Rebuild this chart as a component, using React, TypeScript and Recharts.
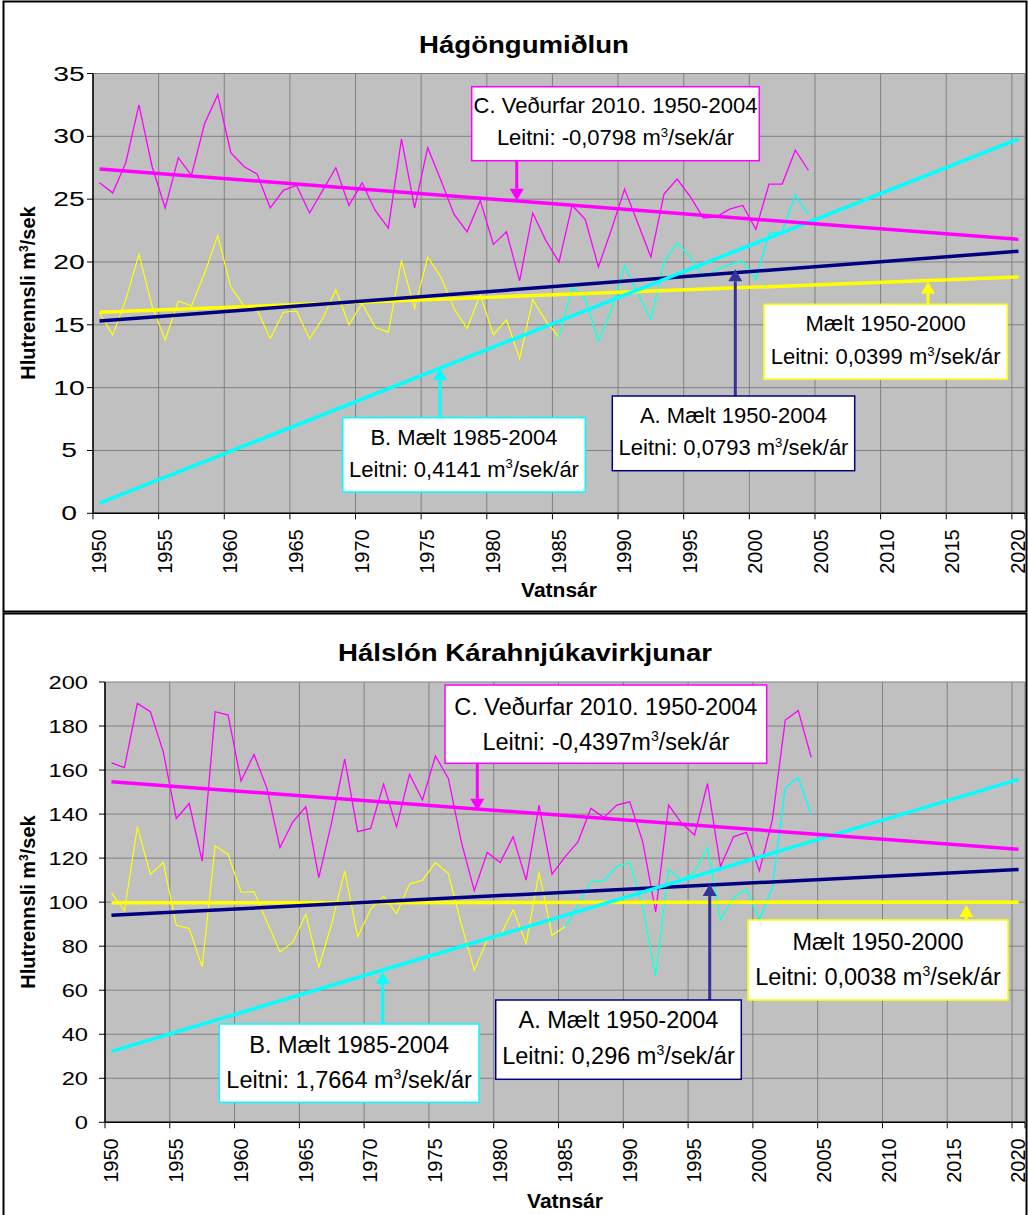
import React from 'react';
import { ComposedChart, Line, XAxis, YAxis, CartesianGrid } from 'recharts';

const FONT = "'Liberation Sans', Arial, Helvetica, sans-serif";

// ---------- categories ----------
const years = [
  1950, 1951, 1952, 1953, 1954, 1955, 1956, 1957, 1958, 1959,
  1960, 1961, 1962, 1963, 1964, 1965, 1966, 1967, 1968, 1969,
  1970, 1971, 1972, 1973, 1974, 1975, 1976, 1977, 1978, 1979,
  1980, 1981, 1982, 1983, 1984, 1985, 1986, 1987, 1988, 1989,
  1990, 1991, 1992, 1993, 1994, 1995, 1996, 1997, 1998, 1999,
  2000, 2001, 2002, 2003, 2004,
];
const yearsB = [
  1985, 1986, 1987, 1988, 1989, 1990, 1991, 1992, 1993, 1994,
  1995, 1996, 1997, 1998, 1999, 2000, 2001, 2002, 2003, 2004,
];
const trendYears = [1950, 2020];
const xTickBounds = [1949.5, 1954.5, 1959.5, 1964.5, 1969.5, 1974.5, 1979.5, 1984.5, 1989.5, 1994.5, 1999.5, 2004.5, 2009.5, 2014.5, 2019.5, 2020.5];
const xTickLabels = ['1950', '1955', '1960', '1965', '1970', '1975', '1980', '1985', '1990', '1995', '2000', '2005', '2010', '2015', '2020', ''];

// ---------- Hágöngumiðlun ----------
const hagVedurfar = [
  26.3, 25.5, 27.9, 32.5, 27.6, 24.3, 28.3, 26.9, 31.0, 33.3,
  28.7, 27.6, 27.0, 24.3, 25.7, 26.1, 23.9, 25.7, 27.5, 24.5,
  26.3, 24.1, 22.7, 29.8, 24.3, 29.1, 26.5, 23.8, 22.4, 24.9,
  21.4, 22.4, 18.5, 23.9, 21.7, 20.0, 24.5, 23.4, 19.6, 22.6,
  25.8, 23.1, 20.4, 25.4, 26.6, 25.2, 23.5, 23.6, 24.2, 24.5,
  22.6, 26.2, 26.2, 28.9, 27.3,
];
const hagMaelt = [
  15.9, 14.2, 17.0, 20.6, 16.5, 13.8, 16.9, 16.5, 19.1, 22.1,
  18.0, 16.5, 16.2, 13.9, 16.0, 16.1, 13.9, 15.5, 17.8, 15.0,
  16.7, 14.8, 14.4, 20.1, 16.3, 20.4, 18.8, 16.3, 14.7, 17.4,
  14.2, 15.4, 12.3, 17.0, 15.3, 14.0, 18.0, 17.1, 13.7, 16.2,
  19.7, 17.5, 15.4, 20.0, 21.5, 20.4, 18.8, 19.4, 19.8, 20.1,
  18.6,
];
const hagMaelt8504 = [
  14.0, 18.0, 17.1, 13.7, 16.2, 19.7, 17.5, 15.4, 20.0, 21.5,
  20.4, 18.8, 19.4, 19.8, 20.1, 18.6, 22.3, 22.4, 25.3, 23.8,
];
const hagTrendC = [27.4, 21.8];
const hagTrendA = [15.3, 20.85];
const hagTrendMaelt = [16.0, 18.8];
const hagTrendB = [0.8, 29.8];
const hagYTicks = [0, 5, 10, 15, 20, 25, 30, 35];

// ---------- Hálslón Kárahnjúkavirkjunar ----------
const karVedurfar = [
  163.3, 161.1, 190.3, 186.5, 168.3, 138.0, 144.8, 118.6, 186.5, 185.0,
  155.0, 167.1, 151.7, 124.8, 136.5, 143.3, 111.1, 136.5, 165.0, 132.0,
  133.5, 153.5, 134.2, 158.0, 146.4, 166.4, 156.2, 127.4, 105.2, 122.6,
  118.0, 129.7, 110.0, 144.1, 112.7, 120.6, 127.4, 142.6, 138.5, 144.1,
  145.6, 127.4, 95.6, 144.1, 135.8, 130.5, 153.9, 116.1, 129.7, 131.7,
  114.2, 137.3, 182.7, 187.0, 165.8,
];
const karMaelt = [
  104.2, 96.1, 134.2, 112.6, 118.0, 89.5, 88.0, 70.6, 125.6, 121.7,
  104.5, 104.8, 91.0, 77.4, 81.8, 94.6, 70.5, 90.3, 114.2, 84.2,
  96.8, 102.6, 94.8, 108.2, 110.0, 118.0, 113.0, 90.0, 69.1, 83.0,
  84.5, 96.6, 81.2, 113.5, 85.0, 88.8, 98.6, 109.2, 109.7, 116.1,
  118.0, 98.0, 66.6, 114.8, 110.0, 113.8, 124.7, 92.0, 102.1, 105.8,
  92.2,
];
const karMaelt8504 = [
  88.8, 98.6, 109.2, 109.7, 116.1, 118.0, 98.0, 66.6, 114.8, 110.0,
  113.8, 124.7, 92.0, 102.1, 105.8, 92.2, 106.5, 152.0, 156.5, 139.8,
];
const karTrendC = [154.7, 124.0];
const karTrendA = [94.1, 114.8];
const karTrendMaelt = [99.7, 100.0];
const karTrendB = [32.2, 155.8];
const karYTicks = [0, 20, 40, 60, 80, 100, 120, 140, 160, 180, 200];

// ---------- helpers ----------
const buildRows = (ved: number[], maelt: number[], b: number[]) =>
  years.map((yr, i) => {
    const j = yearsB.indexOf(yr);
    return {
      year: yr,
      c: ved[i],
      m: i < maelt.length ? maelt[i] : null,
      b: j >= 0 ? b[j] : null,
    };
  });
const buildTrend = (vals: number[]) => trendYears.map((yr, i) => ({ year: yr, v: vals[i] }));

const XTick = (props: any) => {
  const { x, y, payload, half, base, off } = props;
  const idx = xTickBounds.indexOf(payload.value);
  const label = idx >= 0 ? xTickLabels[idx] : '';
  if (!label) return <g />;
  return (
    <text
      transform={`translate(${x + half + base},${y + off}) rotate(-90)`}
      textAnchor="end"
      fontFamily={FONT}
      fontSize={20}
      fill="#000"
    >
      {label}
    </text>
  );
};

const YTick = (props: any) => {
  const { y, payload, tx, anchor, sx, fs, dy } = props;
  return (
    <text
      transform={`translate(${tx},${y + dy}) scale(${sx},1)`}
      textAnchor={anchor}
      fontFamily={FONT}
      fontSize={fs}
      fill="#000"
    >
      {String(payload.value)}
    </text>
  );
};

type ChartCfg = {
  width: number;
  height: number;
  top: number;
  yAxisW: number;
  xAxisH: number;
  yMax: number;
  yTicks: number[];
  half: number;
  xBase: number;
  xOff: number;
  yTick: { tx: number; anchor: string; sx: number; fs: number; dy: number };
  rows: any[];
  trends: { c: number[]; a: number[]; m: number[]; b: number[] };
};

const Panel = ({ cfg }: { cfg: ChartCfg }) => (
  <ComposedChart
    width={cfg.width}
    height={cfg.height}
    data={cfg.rows}
    margin={{ top: cfg.top, right: 3, left: 0, bottom: 0 }}
  >
    <CartesianGrid stroke="#808080" strokeWidth={1} fill="#C0C0C0" fillOpacity={1} />
    <XAxis
      dataKey="year"
      type="number"
      domain={[1949.5, 2020.5]}
      ticks={xTickBounds}
      interval={0}
      height={cfg.xAxisH}
      tickSize={6}
      tickMargin={0}
      stroke="#000"
      axisLine={{ stroke: '#000', strokeWidth: 1.5 }}
      tickLine={{ stroke: '#000' }}
      tick={(p: any) => <XTick {...p} half={cfg.half} base={cfg.xBase} off={cfg.xOff} />}
    />
    <YAxis
      type="number"
      domain={[0, cfg.yMax]}
      ticks={cfg.yTicks}
      interval={0}
      width={cfg.yAxisW}
      tickSize={6}
      tickMargin={0}
      axisLine={{ stroke: '#000', strokeWidth: 1.5 }}
      tickLine={{ stroke: '#000' }}
      tick={(p: any) => <YTick {...p} {...cfg.yTick} />}
    />
    <Line dataKey="m" stroke="#FFFF00" strokeWidth={1.2} dot={false} activeDot={false} isAnimationActive={false} type="linear" />
    <Line dataKey="c" stroke="#FF00FF" strokeWidth={1.3} dot={false} activeDot={false} isAnimationActive={false} type="linear" />
    <Line dataKey="b" stroke="#00FFFF" strokeWidth={1.4} dot={false} activeDot={false} isAnimationActive={false} type="linear" />
    <Line data={buildTrend(cfg.trends.m)} dataKey="v" stroke="#FFFF00" strokeWidth={3.5} dot={false} activeDot={false} isAnimationActive={false} type="linear" />
    <Line data={buildTrend(cfg.trends.a)} dataKey="v" stroke="#000080" strokeWidth={3.5} dot={false} activeDot={false} isAnimationActive={false} type="linear" />
    <Line data={buildTrend(cfg.trends.b)} dataKey="v" stroke="#00FFFF" strokeWidth={3.5} dot={false} activeDot={false} isAnimationActive={false} type="linear" />
    <Line data={buildTrend(cfg.trends.c)} dataKey="v" stroke="#FF00FF" strokeWidth={3.5} dot={false} activeDot={false} isAnimationActive={false} type="linear" />
  </ComposedChart>
);

// ---------- annotation helpers ----------
const Arrow = ({ x, from, tip, color }: { x: number; from: number; tip: number; color: string }) => {
  const dir = tip > from ? 1 : -1;
  const headLen = 12;
  const headW = 7;
  const baseY = tip - dir * headLen;
  return (
    <g>
      <line x1={x} y1={from} x2={x} y2={baseY} stroke={color} strokeWidth={3} />
      <polygon points={`${x - headW},${baseY} ${x + headW},${baseY} ${x},${tip}`} fill={color} />
    </g>
  );
};

const NoteBox = ({
  x1, y1, x2, y2, color, line1, pre, post, b1, b2, fs,
}: {
  x1: number; y1: number; x2: number; y2: number; color: string;
  line1: string; pre: string; post: string; b1: number; b2: number; fs: number;
}) => {
  const cx = (x1 + x2) / 2;
  return (
    <g>
      <rect x={x1} y={y1} width={x2 - x1} height={y2 - y1} fill="#fff" stroke={color} strokeWidth={1.5} />
      <text x={cx} y={b1} textAnchor="middle" fontFamily={FONT} fontSize={fs} fill="#000">{line1}</text>
      <text x={cx} y={b2} textAnchor="middle" fontFamily={FONT} fontSize={fs} fill="#000">
        {pre}
        <tspan dy={-fs * 0.38} fontSize={fs * 0.6}>3</tspan>
        <tspan dy={fs * 0.38}>{post}</tspan>
      </text>
    </g>
  );
};

const YTitle = ({ x, cy }: { x: number; cy: number }) => (
  <text transform={`translate(${x},${cy}) rotate(-90)`} textAnchor="middle" fontFamily={FONT} fontWeight="bold" fontSize={20} fill="#000">
    Hlutrennsli m<tspan dy={-7} fontSize={12}>3</tspan><tspan dy={7}>/sek</tspan>
  </text>
);

const ChartTitle = ({ x, y, children }: { x: number; y: number; children: string }) => (
  <text transform={`translate(${x},${y}) scale(1.2,1)`} textAnchor="middle" fontFamily={FONT} fontWeight="bold" fontSize={23} fill="#000">
    {children}
  </text>
);

const hagCfg: ChartCfg = {
  width: 1028,
  height: 612,
  top: 73.5,
  yAxisW: 93,
  xAxisH: 98.7,
  yMax: 35,
  yTicks: hagYTicks,
  half: 6.56,
  xBase: 6.6,
  xOff: 10,
  yTick: { tx: 69, anchor: 'middle', sx: 1.45, fs: 19.5, dy: 7 },
  rows: buildRows(hagVedurfar, hagMaelt, hagMaelt8504),
  trends: { c: hagTrendC, a: hagTrendA, m: hagTrendMaelt, b: hagTrendB },
};

const karCfg: ChartCfg = {
  width: 1028,
  height: 603,
  top: 70,
  yAxisW: 105,
  xAxisH: 92.7,
  yMax: 200,
  yTicks: karYTicks,
  half: 6.48,
  xBase: 6.8,
  xOff: 10,
  yTick: { tx: 88, anchor: 'end', sx: 1.28, fs: 18.5, dy: 6.5 },
  rows: buildRows(karVedurfar, karMaelt, karMaelt8504),
  trends: { c: karTrendC, a: karTrendA, m: karTrendMaelt, b: karTrendB },
};

export default function App() {
  return (
    <div style={{ position: 'absolute', left: 0, top: 0, width: 1028, height: 1215, background: '#fff', overflow: 'hidden' }}>
      <div style={{ position: 'absolute', left: 0, top: 0 }}>
        <Panel cfg={hagCfg} />
      </div>
      <div style={{ position: 'absolute', left: 0, top: 612 }}>
        <Panel cfg={karCfg} />
      </div>
      <svg width={1028} height={1215} style={{ position: 'absolute', left: 0, top: 0, pointerEvents: 'none' }}>
        {/* frames */}
        <rect x={3.5} y={1.5} width={1023} height={610} fill="none" stroke="#000" strokeWidth={2} />
        <rect x={3.5} y={613.5} width={1023} height={1000} fill="none" stroke="#000" strokeWidth={2} />

        {/* titles */}
        <ChartTitle x={524} y={53}>Hágöngumiðlun</ChartTitle>
        <ChartTitle x={525} y={661}>Hálslón Kárahnjúkavirkjunar</ChartTitle>

        {/* axis titles */}
        <YTitle x={35} cy={293} />
        <YTitle x={35} cy={902} />
        <text x={559} y={597} textAnchor="middle" fontFamily={FONT} fontWeight="bold" fontSize={21} fill="#000">Vatnsár</text>
        <text x={565} y={1208} textAnchor="middle" fontFamily={FONT} fontWeight="bold" fontSize={21} fill="#000">Vatnsár</text>

        {/* top chart notes */}
        <Arrow x={516.7} from={160.7} tip={200.7} color="#FF00FF" />
        <NoteBox x1={471.7} y1={86.7} x2={759.3} y2={160.7} color="#FF00FF" line1="C. Veðurfar 2010. 1950-2004" pre="Leitni: -0,0798 m" post="/sek/ár" b1={112.7} b2={145} fs={22} />
        <Arrow x={928} from={304.3} tip={281.7} color="#FFFF00" />
        <NoteBox x1={764} y1={304.3} x2={1007.3} y2={379.3} color="#FFFF00" line1="Mælt 1950-2000" pre="Leitni: 0,0399 m" post="/sek/ár" b1={330.7} b2={364} fs={22} />
        <Arrow x={735.3} from={396} tip={269.3} color="#333399" />
        <NoteBox x1={612.3} y1={396} x2={854.7} y2={470.7} color="#000080" line1="A. Mælt 1950-2004" pre="Leitni: 0,0793 m" post="/sek/ár" b1={422.7} b2={455} fs={22} />
        <Arrow x={440} from={417.7} tip={368.3} color="#00FFFF" />
        <NoteBox x1={342.7} y1={417.7} x2={585.3} y2={492} color="#00FFFF" line1="B. Mælt 1985-2004" pre="Leitni: 0,4141 m" post="/sek/ár" b1={445} b2={476.7} fs={22} />

        {/* bottom chart notes */}
        <Arrow x={477.3} from={763.3} tip={810.7} color="#FF00FF" />
        <NoteBox x1={445} y1={685} x2={766.7} y2={763.3} color="#FF00FF" line1="C. Veðurfar 2010. 1950-2004" pre="Leitni: -0,4397m" post="/sek/ár" b1={715} b2={750} fs={23.5} />
        <Arrow x={966.3} from={920} tip={905} color="#FFFF00" />
        <NoteBox x1={748} y1={920} x2={1008} y2={1000} color="#FFFF00" line1="Mælt 1950-2000" pre="Leitni: 0,0038 m" post="/sek/ár" b1={950} b2={985} fs={23.5} />
        <Arrow x={709.7} from={1000} tip={884} color="#333399" />
        <NoteBox x1={495.7} y1={1000} x2={741.3} y2={1079.3} color="#000080" line1="A. Mælt 1950-2004" pre="Leitni: 0,296 m" post="/sek/ár" b1={1028.3} b2={1064} fs={23.5} />
        <Arrow x={382.7} from={1024} tip={971.7} color="#00FFFF" />
        <NoteBox x1={219.3} y1={1024} x2={479} y2={1102.3} color="#00FFFF" line1="B. Mælt 1985-2004" pre="Leitni: 1,7664 m" post="/sek/ár" b1={1052.7} b2={1088.3} fs={23.5} />
      </svg>
    </div>
  );
}
